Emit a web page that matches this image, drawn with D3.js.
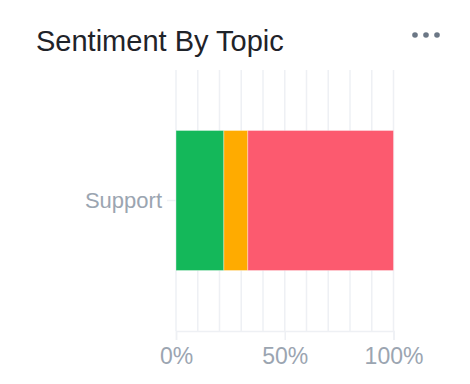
<!DOCTYPE html>
<html>
<head>
<meta charset="utf-8">
<script src="https://cdn.jsdelivr.net/npm/d3@7"></script>
<style>
  body { margin: 0; background: #fff; }
  svg { display: block; font-family: "Liberation Sans", Arial, sans-serif; }
</style>
</head>
<body>
<div id="chart"></div>
<script>
var width = 470
var height = 384
var title = "Sentiment By Topic"
var topics = ["Support"]
var sentiments = ["positive", "neutral", "negative"]
var positive = [22]
var neutral = [11]
var negative = [67]
var colors = ["#14b85a", "#ffab00", "#fc5a6f"]
var tickValues = [0, 0.5, 1]

var rows = topics.map(function(t, i) {
  return { topic: t, positive: positive[i], neutral: neutral[i], negative: negative[i] }
})

var svg = d3.select("#chart").append("svg").attr("width", width).attr("height", height)

svg.append("text")
   .attr("x", 36).attr("y", 51)
   .style("font-size", "29px")
   .style("fill", "#1f2329")
   .text(title)

// menu dots
svg.selectAll("circle.dot")
   .data([0, 1, 2])
   .enter()
   .append("circle")
   .attr("cx", function(d) { return 415 + d * 11 })
   .attr("cy", 35)
   .attr("r", 2.8)
   .style("fill", "#6b7785")

var x = d3.scaleLinear().domain([0, 1]).range([176, 393.5])
var y = d3.scaleBand().domain(topics).range([70, 331]).paddingInner(0).paddingOuter(0.432)

// grid
svg.selectAll("line.grid")
   .data(d3.range(0, 1.0001, 0.1))
   .enter()
   .append("line")
   .attr("x1", function(d) { return x(d) }).attr("x2", function(d) { return x(d) })
   .attr("y1", 70).attr("y2", 331)
   .style("stroke", "#eef0f4")
   .style("stroke-width", 1.5)

var stack = d3.stack().keys(sentiments).offset(d3.stackOffsetExpand)
var series = stack(rows)

svg.selectAll("g.series")
   .data(series)
   .enter()
   .append("g")
   .style("fill", function(d, i) { return colors[i] })
   .selectAll("rect")
   .data(function(d) { return d })
   .enter()
   .append("rect")
   .attr("x", function(d) { return x(d[0]) })
   .attr("width", function(d) { return x(d[1]) - x(d[0]) })
   .attr("y", function(d) { return y(d.data.topic) })
   .attr("height", y.bandwidth())
   .style("stroke", "rgba(255,255,255,0.35)")
   .style("stroke-width", 1)

// x axis
var xAxis = svg.append("g")
   .attr("transform", "translate(0,331)")
   .call(d3.axisBottom(x).tickValues(tickValues).tickFormat(d3.format(".0%")).tickSize(9).tickPadding(8))
xAxis.select(".domain").style("stroke", "#eef0f4").style("stroke-width", 1.5)
xAxis.selectAll(".tick line").style("stroke", "#eef0f4").style("stroke-width", 1.5)
xAxis.selectAll("text")
   .style("font-size", "23px")
   .style("fill", "#9ba5b1")
   .style("font-family", "'Liberation Sans', Arial, sans-serif")

// y axis
var yAxis = svg.append("g")
   .attr("transform", "translate(176,0)")
   .call(d3.axisLeft(y).tickSize(9).tickPadding(5))
yAxis.select(".domain").remove()
yAxis.selectAll(".tick line").style("stroke", "#eef0f4").style("stroke-width", 1.5)
yAxis.selectAll("text")
   .style("font-size", "22px")
   .style("fill", "#9ba5b1")
   .style("font-family", "'Liberation Sans', Arial, sans-serif")
</script>
</body>
</html>
